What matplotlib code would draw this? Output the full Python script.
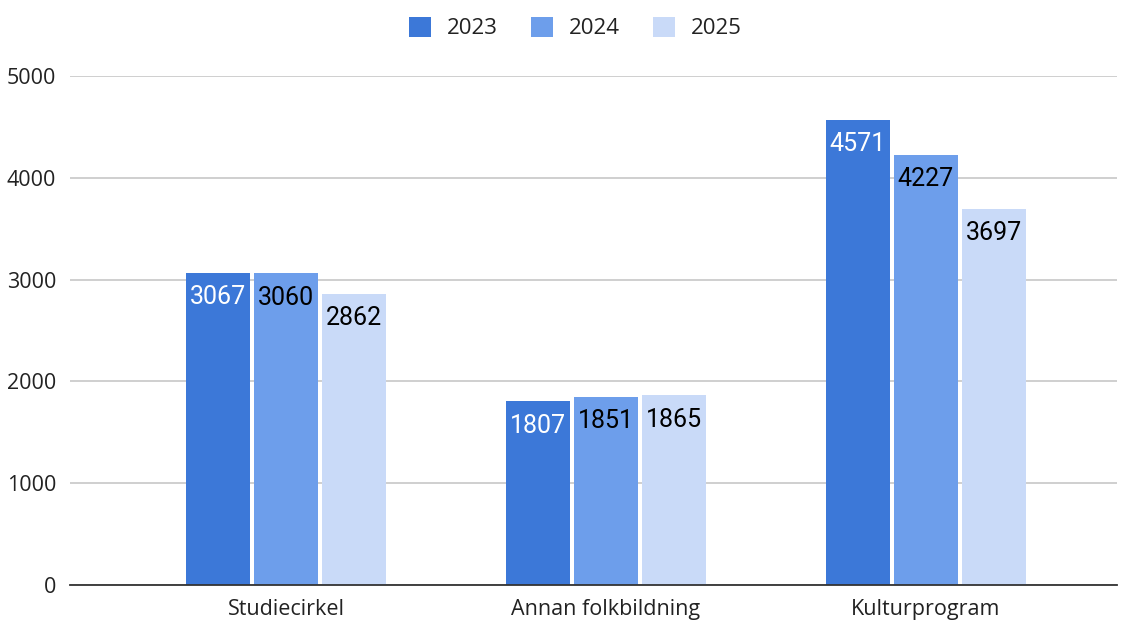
import matplotlib.pyplot as plt
import numpy as np

# data
categories = ['Studiecirkel', 'Annan folkbildning', 'Kulturprogram']
years = ['2023', '2024', '2025']
v2023 = [3067, 1807, 4571]
v2024 = [3060, 1851, 4227]
v2025 = [2862, 1865, 3697]

colors = ['#3c78d8', '#6d9eeb', '#c9daf8']
text_colors = ['white', 'black', 'black']

fig = plt.figure(figsize=(11.28, 6.2), dpi=100)
ax = fig.add_axes([70 / 1128, 1 - 585 / 620, (1117 - 70) / 1128, (585 - 76) / 620])

x = np.arange(len(categories))
step = 0.2125
width = 0.2

for i, (vals, yr) in enumerate(zip([v2023, v2024, v2025], years)):
    pos = x + (i - 1) * step
    bars = ax.bar(pos, vals, width, color=colors[i], label=yr, zorder=3)
    for b, v in zip(bars, vals):
        ax.annotate(str(v), (b.get_x() + b.get_width() / 2, v),
                    xytext=(0, -9), textcoords='offset points',
                    ha='center', va='top', fontsize=18, family='Roboto',
                    color=text_colors[i], zorder=4)

ax.set_xlim(-0.675, 2.597)
ax.set_ylim(0, 5000)
ax.set_yticks([0, 1000, 2000, 3000, 4000, 5000])
ax.set_xticks(x)
ax.set_xticklabels(categories, fontsize=15.5, family='Open Sans', color='#222222')
for lab in ax.get_yticklabels():
    lab.set_fontsize(15.5)
    lab.set_family('Open Sans')
    lab.set_color('#222222')
ax.tick_params(length=0, pad=10)
ax.tick_params(axis='x', pad=10)

ax.grid(True, axis='y', color='#cccccc', linewidth=1.3, zorder=0)
for s in ['top', 'right', 'left']:
    ax.spines[s].set_visible(False)
ax.spines['bottom'].set_color('#333333')
ax.spines['bottom'].set_linewidth(1.3)
ax.spines['bottom'].set_zorder(5)

leg = fig.legend(loc='center', bbox_to_anchor=(575.5 / 1128, 1 - 28 / 620), ncol=3,
                 frameon=False, prop={'family': 'Open Sans', 'size': 16},
                 handlelength=1.0, handleheight=1.0, columnspacing=1.5,
                 handletextpad=0.7)
for t in leg.get_texts():
    t.set_color('#222222')

fig.savefig('out.png', dpi=100)
